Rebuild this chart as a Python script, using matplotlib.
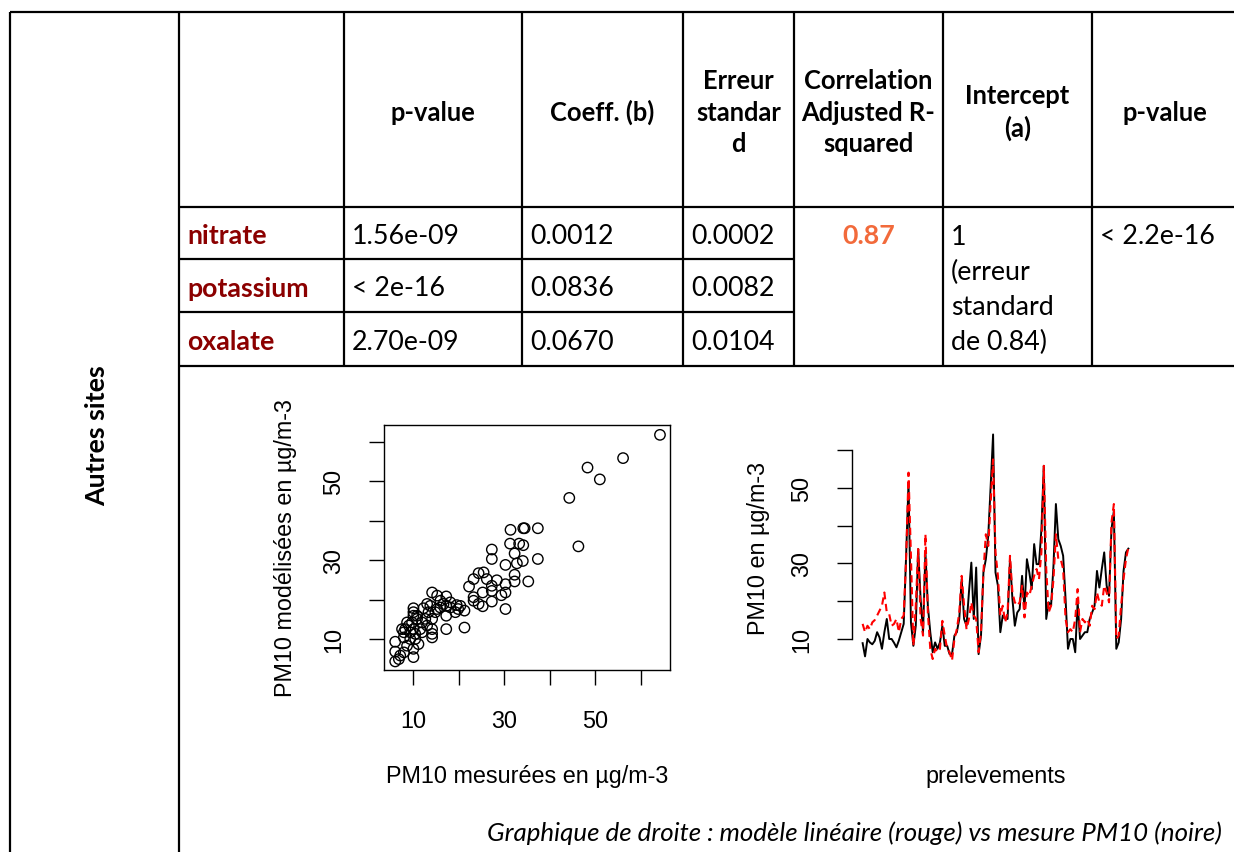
import matplotlib
matplotlib.use("Agg")
import matplotlib.pyplot as plt

W, H = 1234, 853

# ---- table content ----
headers = ["p-value", "Coeff. (b)", "Erreur\nstandar\nd",
           "Correlation\nAdjusted R-\nsquared", "Intercept\n(a)", "p-value"]
species = ["nitrate", "potassium", "oxalate"]
p_values = ["1.56e-09", "< 2e-16", "2.70e-09"]
coeffs = ["0.0012", "0.0836", "0.0670"]
std_errors = ["0.0002", "0.0082", "0.0104"]
adj_r2 = "0.87"
intercept = "1\n(erreur\nstandard\nde 0.84)"
p_global = "< 2.2e-16"
site = "Autres sites"
caption = "Graphique de droite : modèle linéaire (rouge) vs mesure PM10 (noire)"

# ---- scatter: PM10 mesurees vs modelisees ----
measured = [64.2, 56.1, 48.3, 51.0, 44.3, 46.3, 31.4, 34.2, 34.5, 37.4, 27.3, 27.3, 31.3, 33.3,
            34.2, 32.3, 34.1, 37.4, 30.3, 32.8, 32.3, 32.3, 35.3, 30.3, 30.3, 30.3, 29.4, 28.4,
            27.3, 27.3, 27.3, 25.5, 24.4, 23.3, 22.3, 26.2, 25.3, 23.3, 23.3, 24.4, 25.3, 21.3,
            21.3, 20.4, 19.6, 19.3, 18.2, 17.3, 17.3, 17.3, 17.3, 16.0, 15.3, 14.2, 16.0, 14.9,
            13.8, 13.1, 12.3, 13.4, 14.2, 14.2, 14.2, 14.2, 13.1, 12.0, 12.0, 10.1, 10.1, 10.1,
            10.9, 9.8, 9.1, 8.3, 8.0, 10.1, 10.5, 11.2, 10.1, 10.1, 8.0, 8.7, 7.2, 6.1, 6.1, 6.1,
            6.9, 9.4, 8.0, 7.6, 8.7, 10.9, 11.6, 12.7, 15.3, 16.7, 18.2, 19.9, 9.4, 10.5]
modelled = [61.8, 55.9, 53.5, 50.5, 45.8, 33.5, 37.7, 38.1, 38.1, 38.1, 32.7, 30.3, 34.2, 34.2,
            33.8, 31.7, 29.8, 30.3, 28.8, 29.2, 26.3, 24.6, 24.6, 23.9, 21.8, 17.6, 21.1, 24.9,
            23.5, 22.2, 19.5, 26.9, 26.7, 25.2, 23.3, 25.2, 21.8, 20.6, 19.7, 18.9, 18.3, 12.9,
            17.2, 18.4, 18.6, 16.8, 19.3, 20.8, 18.4, 15.9, 12.5, 19.7, 21.0, 21.8, 18.0, 16.8,
            18.4, 18.9, 17.8, 16.8, 15.1, 12.5, 10.4, 11.3, 13.4, 14.2, 11.7, 17.8, 16.8, 15.9,
            15.1, 14.2, 13.4, 12.5, 11.7, 12.5, 11.3, 8.7, 7.5, 5.4, 6.6, 8.3, 5.8, 6.8, 9.3, 4.3,
            4.9, 10.0, 10.4, 12.5, 14.2, 15.9, 12.5, 15.1, 17.6, 18.9, 18.0, 17.6, 11.7, 10.0]

# ---- time series: mesure (noire) et modele (rouge) ----
pm10_mesure = [8.9, 5.4, 10.0, 9.1, 8.6, 9.5, 11.8, 10.4, 7.4, 11.8, 15.3, 10.0, 10.0, 9.0,
               7.8, 9.6, 11.8, 14.0, 32.0, 51.4, 14.4, 8.2, 13.5, 33.8, 20.6, 11.8, 32.9, 18.8,
               11.8, 6.5, 9.1, 7.4, 9.1, 13.5, 8.2, 8.2, 6.0, 6.0, 10.9, 11.8, 15.3, 25.8, 15.3,
               13.5, 22.3, 30.2, 15.3, 28.9, 6.0, 10.9, 27.6, 31.1, 37.3, 50.5, 64.1, 27.6, 24.1,
               11.8, 16.2, 15.3, 15.3, 31.1, 20.6, 13.5, 17.0, 17.9, 26.7, 17.9, 31.1, 27.6, 23.2,
               35.1, 29.8, 29.8, 39.0, 55.8, 15.3, 19.7, 18.8, 29.4, 45.7, 36.4, 34.6, 32.0, 20.6,
               7.4, 10.0, 10.0, 6.5, 19.7, 10.0, 10.9, 11.8, 11.8, 15.3, 17.0, 18.8, 28.0, 23.6,
               28.5, 32.9, 24.1, 21.4, 39.0, 43.9, 7.4, 9.1, 15.3, 28.0, 32.9, 33.9]
pm10_modele = [14.0, 11.8, 13.5, 12.6, 14.4, 15.0, 16.2, 17.5, 18.8, 22.3, 17.0, 16.6, 13.5, 14.0,
               15.3, 11.8, 15.3, 16.2, 31.1, 54.0, 32.0, 8.2, 18.8, 33.8, 15.3, 10.9, 37.7, 17.0,
               7.4, 4.7, 7.4, 6.5, 7.4, 14.8, 10.9, 7.4, 6.5, 4.3, 10.0, 12.6, 17.0, 26.7, 18.8,
               12.6, 15.3, 19.7, 16.2, 15.3, 6.5, 11.8, 27.6, 37.7, 34.6, 46.1, 57.5, 32.9, 26.7,
               16.2, 18.8, 14.4, 17.0, 32.0, 22.3, 19.7, 18.8, 19.7, 24.1, 15.7, 22.3, 21.4, 24.1,
               26.7, 28.5, 25.8, 32.9, 55.8, 28.5, 17.0, 18.8, 25.8, 37.7, 31.1, 31.1, 28.5, 15.3,
               11.8, 12.6, 11.8, 15.3, 23.2, 11.8, 15.3, 14.4, 15.3, 13.5, 18.8, 17.9, 22.3, 19.7,
               18.8, 24.1, 22.3, 19.7, 40.8, 45.7, 10.0, 10.9, 18.8, 25.8, 31.1, 34.2]

yticks = [10, 20, 30, 40, 50, 60]
ytick_labels = ["10", "", "30", "", "50", ""]

tab_font = "Lato"
r_font = "Liberation Sans"
dark_red = "#8b0000"
orange = "#f26a3b"

fig = plt.figure(figsize=(W / 100, H / 100), dpi=100)

# background axes in pixel coordinates for the table grid
tab = fig.add_axes([0, 0, 1, 1])
tab.set_xlim(0, W)
tab.set_ylim(H, 0)
tab.axis("off")

col_x = [10, 179, 344, 522, 683, 794, 943, 1092, 1238]
row_y = [13, 208, 260, 313, 367]
lw = 1.6
tab.hlines(row_y[0], col_x[0], W, color="black", lw=lw)
tab.hlines(row_y[1], col_x[1], W, color="black", lw=lw)
tab.hlines(row_y[2:4], col_x[1], col_x[5], color="black", lw=lw)
tab.hlines(row_y[4], col_x[1], W, color="black", lw=lw)
tab.vlines(col_x[:2], row_y[0], H, color="black", lw=lw)
tab.vlines(col_x[2:8], row_y[0], row_y[4], color="black", lw=lw)

fs = 19.3
for i, h in enumerate(headers):
    cx = (col_x[i + 2] + col_x[i + 3]) / 2
    tab.text(cx, (row_y[0] + row_y[1]) / 2 + 2, h, ha="center", va="center",
             fontsize=18.4, fontweight="bold", family=tab_font, linespacing=1.38)

for r in range(3):
    cy = (row_y[r + 1] + row_y[r + 2]) / 2 + 2
    tab.text(col_x[1] + 8, cy, species[r], ha="left", va="center", fontsize=fs,
             fontweight="bold", color=dark_red, family=tab_font)
    tab.text(col_x[2] + 8, cy, p_values[r], ha="left", va="center", fontsize=fs, family=tab_font)
    tab.text(col_x[3] + 8, cy, coeffs[r], ha="left", va="center", fontsize=fs, family=tab_font)
    tab.text(col_x[4] + 8, cy, std_errors[r], ha="left", va="center", fontsize=fs, family=tab_font)

first_y = (row_y[1] + row_y[2]) / 2 + 2
tab.text((col_x[5] + col_x[6]) / 2, first_y, adj_r2, ha="center", va="center", fontsize=fs,
         fontweight="bold", color=orange, family=tab_font)
tab.text(col_x[6] + 8, 290, intercept, ha="left", va="center", fontsize=fs,
         family=tab_font, linespacing=1.5)
tab.text(col_x[7] + 8, first_y, p_global, ha="left", va="center", fontsize=fs, family=tab_font)

tab.text(97, 436, site, rotation=90, ha="center", va="center", fontsize=fs,
         fontweight="bold", family=tab_font)
tab.text(487, 833, caption, ha="left", va="center", fontsize=18.6, style="italic",
         family=tab_font)

# ---- left chart: scatter ----
r_fs = 16.8
sc = fig.add_axes([384 / W, 1 - 671 / H, 286 / W, 245 / H])
sc.scatter(measured, modelled, s=56, facecolors="none", edgecolors="black", linewidths=1.0)
sc.set_xlim(3.64, 66.4)
sc.set_ylim(2.13, 64.3)
sc.set_xticks(yticks)
sc.set_xticklabels(ytick_labels)
sc.set_yticks(yticks)
sc.set_yticklabels(ytick_labels, rotation=90, va="center")
sc.tick_params(direction="out", length=10.8, width=1, labelsize=r_fs, pad=17)
for lab in sc.get_xticklabels() + sc.get_yticklabels():
    lab.set_family(r_font)
for s in sc.spines.values():
    s.set_linewidth(1)
sc.text(-0.3427, 0.5, "PM10 modélisées en µg/m-3", transform=sc.transAxes, rotation=90,
        ha="center", va="center", fontsize=r_fs, family=r_font)
sc.text(0.5, -0.4286, "PM10 mesurées en µg/m-3", transform=sc.transAxes,
        ha="center", va="center", fontsize=r_fs, family=r_font)

# ---- right chart: time series ----
idx = list(range(1, len(pm10_mesure) + 1))
ln = fig.add_axes([852 / W, 1 - 671 / H, 287 / W, 245 / H])
ln.plot(idx, pm10_mesure, color="black", lw=1.4)
ln.plot(idx, pm10_modele, color="red", lw=1.5, ls=(0, (3.5, 2.2)))
n = len(idx)
ln.set_xlim(1 - 0.04 * (n - 1), n + 0.04 * (n - 1))
ln.set_ylim(1.8, 66.6)
ln.set_xticks([])
ln.set_yticks(yticks)
ln.set_yticklabels(ytick_labels, rotation=90, va="center")
ln.tick_params(direction="out", length=10.8, width=1, labelsize=r_fs, pad=17)
for lab in ln.get_yticklabels():
    lab.set_family(r_font)
for k in ["top", "right", "bottom"]:
    ln.spines[k].set_visible(False)
ln.spines["left"].set_bounds(10, 60)
ln.spines["left"].set_linewidth(1)
ln.patch.set_alpha(0)
ln.text(-0.3275, 0.5, "PM10 en µg/m-3", transform=ln.transAxes, rotation=90,
        ha="center", va="center", fontsize=r_fs, family=r_font)
ln.text(0.5, -0.4286, "prelevements", transform=ln.transAxes,
        ha="center", va="center", fontsize=r_fs, family=r_font)

fig.savefig("out.png", dpi=100)
